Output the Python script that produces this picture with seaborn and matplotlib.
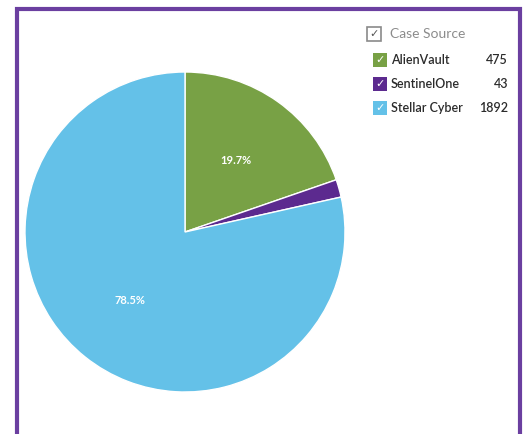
import matplotlib
matplotlib.use("Agg")
import matplotlib.pyplot as plt
import matplotlib.patches as mpatches
import seaborn as sns

categories = ["AlienVault", "SentinelOne", "Stellar Cyber"]
values = [475, 43, 1892]
colors = ["#78a145", "#5c2a8f", "#64c1e8"]
legend_title = "Case Source"

sns.set_theme(style="white")
plt.rcParams['font.family'] = ['Lato', 'DejaVu Sans']

W, H = 523, 434
fig = plt.figure(figsize=(W / 100, H / 100), dpi=100)
fig.patch.set_facecolor("white")

# pie axes: center (185,232) px, radius 160 px
cx, cy, r = 185, 232, 160
ax = fig.add_axes([(cx - r) / W, (H - cy - r) / H, 2 * r / W, 2 * r / H])

def fmt(p):
    return f"{p:.1f}%" if p > 5 else ""

wedges, texts, autotexts = ax.pie(
    values, colors=colors, startangle=90, counterclock=False,
    autopct=fmt, pctdistance=0.55,
    wedgeprops=dict(edgecolor="white", linewidth=1.0),
    textprops=dict(color="white", fontsize=8, fontweight="bold"),
)
ax.set_aspect("equal")
ax.set_xlim(-1, 1)
ax.set_ylim(-1, 1)
ax.axis("off")

# frame border
border = mpatches.Rectangle((17 / W, -0.05), (520 - 17) / W, (H - 9) / H + 0.05,
                            transform=fig.transFigure, fill=False,
                            edgecolor="#6b3fa0", linewidth=3, clip_on=False)
fig.add_artist(border)

def px(x, y):
    return x / W, 1 - y / H

# legend header
bx, by = px(367, 41)
fig.add_artist(mpatches.Rectangle((bx, by), 14 / W, 14 / H, transform=fig.transFigure,
                                  fill=False, edgecolor="#8a8a8a", linewidth=1.2))
fig.text(*px(374, 34.5), "✓", color="#555555", fontsize=8, fontweight="bold",
         ha="center", va="center", family=['DejaVu Sans'])
fig.text(*px(390, 34), legend_title, color="#8c8c8c", fontsize=10, ha="left", va="center")

rows_y = [60, 84, 108]
for cat, val, col, y in zip(categories, values, colors, rows_y):
    bx, by = px(373, y + 7)
    fig.add_artist(mpatches.Rectangle((bx, by), 14 / W, 14 / H, transform=fig.transFigure,
                                      facecolor=col, edgecolor="none"))
    fig.text(*px(380, y), "✓", color="white", fontsize=8, fontweight="bold",
             ha="center", va="center", family=['DejaVu Sans'])
    fig.text(*px(391, y), cat, color="#2b2b2b", fontsize=9, ha="left", va="center",
             fontweight="semibold")
    fig.text(*px(508, y), str(val), color="#2b2b2b", fontsize=9, ha="right", va="center",
             fontweight="semibold")

fig.savefig("out.png", dpi=100)
